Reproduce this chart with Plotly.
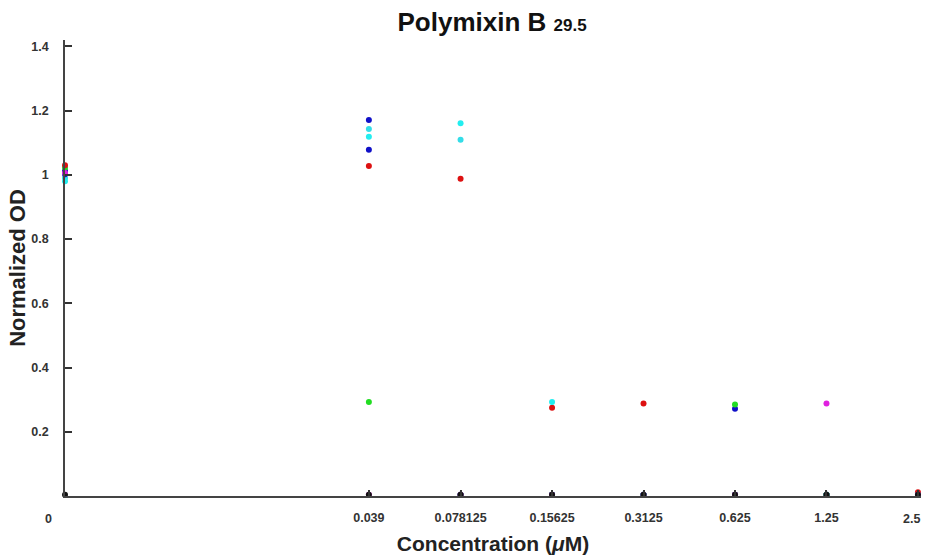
import math
import plotly.graph_objects as go

# Concentrations (uM); 0 is drawn at one tenth of the smallest dose on the log axis
concentrations = [0, 0.039, 0.078125, 0.15625, 0.3125, 0.625, 1.25, 2.5]
tick_labels = ["0", "0.039", "0.078125", "0.15625", "0.3125", "0.625", "1.25", "2.5"]
y_tick_values = [0.2, 0.4, 0.6, 0.8, 1.0, 1.2, 1.4]
y_tick_labels = ["0.2", "0.4", "0.6", "0.8", "1", "1.2", "1.4"]

# Normalized OD per replicate (colour), one value per concentration
red_od      = [1.030, 1.028, 0.988, 0.275, 0.288, 0.004, 0.004, 0.012]
green_od    = [1.022, 0.293, 0.004, 0.004, 0.004, 0.285, 0.004, 0.004]
blue_od     = [1.012, 1.171, 0.004, 0.004, 0.004, 0.272, 0.004, 0.004]
blue2_od    = [1.002, 1.078, 0.004, 0.004, 0.004, 0.004, 0.004, 0.004]
cyan_od     = [0.980, 1.119, 1.161, 0.293, 0.004, 0.004, 0.004, 0.004]
cyan2_od    = [0.990, 1.143, 1.109, 0.004, 0.004, 0.004, 0.004, 0.004]
magenta_od  = [1.006, 0.004, 0.004, 0.004, 0.004, 0.004, 0.288, 0.004]
black_od    = [0.004, 0.004, 0.004, 0.004, 0.004, 0.004, 0.004, 0.004]

series = [
    ("cyan2", cyan2_od, "#33dde8"),
    ("blue2", blue2_od, "#1010c8"),
    ("blue", blue_od, "#1010c8"),
    ("green", green_od, "#22dd22"),
    ("red", red_od, "#dd1111"),
    ("cyan", cyan_od, "#22eef0"),
    ("magenta", magenta_od, "#e020e0"),
    ("black", black_od, "#111111"),
]

min_pos = min(c for c in concentrations if c > 0)
x_plot = [c if c > 0 else min_pos / 10 for c in concentrations]

fig = go.Figure()
for name, vals, col in series:
    fig.add_trace(go.Scatter(
        x=x_plot, y=vals, mode="markers", name=name,
        marker=dict(color=col, size=6, line=dict(width=0)),
        cliponaxis=False, showlegend=False,
    ))

tick_font = dict(family="Liberation Sans, Arial", size=12.5, color="#333333", weight="bold")
title_font_family = "Liberation Sans, Arial"

# first and last tick labels are drawn as annotations so they sit like the original
inner_ticktext = tick_labels[1:-1] + [""]

fig.update_layout(
    width=925, height=558,
    margin=dict(l=65, r=4, t=40, b=62, autoexpand=False),
    paper_bgcolor="white", plot_bgcolor="white",
    title=dict(
        text="<b>Polymixin B <span style='font-size:17px'>29.5</span></b>",
        x=0.532, xanchor="center", y=0.961, yanchor="middle",
        font=dict(family=title_font_family, size=26, color="#111111"),
    ),
    xaxis=dict(
        type="log", automargin=False,
        range=[math.log10(x_plot[0]), math.log10(x_plot[-1]) + 0.01],
        tickvals=x_plot[1:], ticktext=inner_ticktext,
        ticks="inside", ticklen=6, tickwidth=1.5, tickcolor="#333333",
        showline=True, linecolor="#444444", linewidth=1.5,
        showgrid=False, zeroline=False, mirror=False,
        tickfont=tick_font, ticklabelstandoff=9,
        title=dict(text="<b>Concentration (<i>μ</i>M)</b>",
                   font=dict(family=title_font_family, size=21, color="#222222"),
                   standoff=13),
    ),
    yaxis=dict(
        automargin=False,
        range=[0, 1.42],
        tickvals=y_tick_values, ticktext=y_tick_labels,
        ticks="inside", ticklen=7, tickwidth=1.5, tickcolor="#333333",
        showline=True, linecolor="#444444", linewidth=1.5,
        showgrid=False, zeroline=False,
        tickfont=tick_font, ticklabelstandoff=12,
        title=dict(text="<b>Normalized OD</b>",
                   font=dict(family=title_font_family, size=22, color="#222222"),
                   standoff=0),
    ),
    annotations=[
        dict(x=math.log10(x_plot[0]), y=0, xref="x", yref="y",
             text=tick_labels[0], showarrow=False, xshift=-17, yshift=-23,
             font=tick_font),
        dict(x=math.log10(x_plot[-1]), y=0, xref="x", yref="y",
             text=tick_labels[-1], showarrow=False, xanchor="right", xshift=4, yshift=-23,
             font=tick_font),
    ],
)

fig.write_html(
    "out.html",
    config={"displayModeBar": False},
    post_script="document.body.style.margin='0';document.body.style.overflow='hidden';",
)
